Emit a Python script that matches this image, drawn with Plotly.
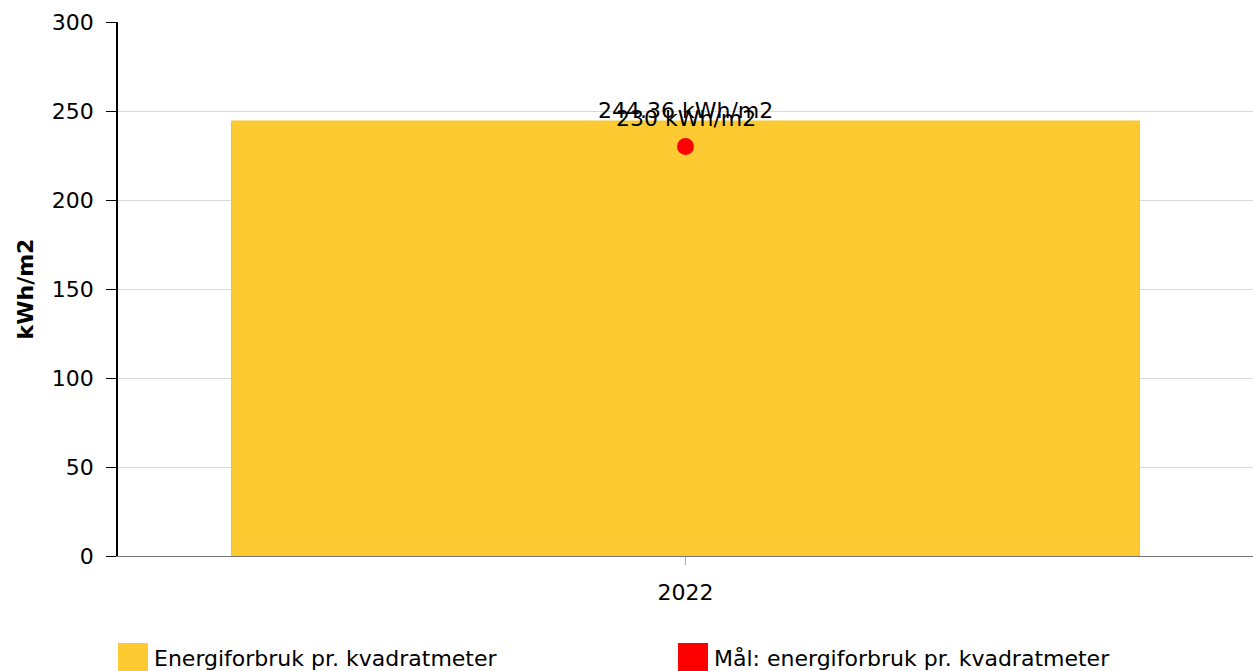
import plotly.graph_objects as go

years = ["2022"]
consumption = [244.36]
target = [230]
series_names = ["Energiforbruk pr. kvadratmeter", "Mål: energiforbruk pr. kvadratmeter"]
y_ticks = [0, 50, 100, 150, 200, 250, 300]

BAR_COLOR = "rgb(253,202,50)"
TARGET_COLOR = "rgb(255,0,0)"
FONT = "DejaVu Sans, Verdana, sans-serif"
FS = 22

W, H = 1253, 671
ML, MR, MT, MB = 118, 0, 22, 115
PW = W - ML - MR
PH = H - MT - MB

def px_x(p):
    return (p - ML) / PW

def px_y(p):
    return (H - MB - p) / PH

fig = go.Figure()
fig.add_trace(go.Bar(
    x=years, y=consumption, name=series_names[0],
    marker=dict(color=BAR_COLOR, line=dict(color="rgb(245,195,45)", width=1)),
    width=0.8,
    showlegend=False,
))
fig.add_trace(go.Scatter(
    x=years, y=target, name=series_names[1], mode="markers",
    marker=dict(color=TARGET_COLOR, size=17),
    cliponaxis=False,
    showlegend=False,
))
for i, yv in enumerate(consumption):
    fig.add_annotation(x=i, y=yv, text=f"{yv:g} kWh/m2", showarrow=False,
                       yshift=11, xanchor="center", yanchor="middle",
                       font=dict(family=FONT, size=FS, color="black"))
for i, yv in enumerate(target):
    fig.add_annotation(x=i, y=yv, text=f"{yv:g} kWh/m2", showarrow=False,
                       yshift=28, xanchor="center", yanchor="middle",
                       font=dict(family=FONT, size=FS, color="black"))

# custom legend with large square swatches
legend_items = [(118, series_names[0], BAR_COLOR), (678, series_names[1], TARGET_COLOR)]
for x0, name, col in legend_items:
    fig.add_shape(type="rect", xref="paper", yref="paper",
                  x0=px_x(x0), x1=px_x(x0 + 30), y0=px_y(643), y1=px_y(674),
                  fillcolor=col, line=dict(width=0))
    fig.add_annotation(xref="paper", yref="paper", x=px_x(x0 + 34), y=px_y(658),
                       text=name, showarrow=False, xanchor="left", yanchor="middle",
                       font=dict(family=FONT, size=FS, color="black"))

fig.update_layout(
    width=W, height=H,
    margin=dict(l=ML, r=MR, t=MT, b=MB, pad=0),
    paper_bgcolor="white", plot_bgcolor="white",
    font=dict(family=FONT, size=FS, color="black"),
    bargap=0.2,
    xaxis=dict(
        type="category", range=[-0.5, 0.5], showline=True, linecolor="rgb(120,120,120)", linewidth=1,
        ticks="outside", ticklen=8, tickcolor="rgb(170,170,170)",
        tickfont=dict(family=FONT, size=FS, color="black"), ticklabelstandoff=9,
        showgrid=False, zeroline=False,
    ),
    yaxis=dict(
        range=[0, 300], tickvals=y_ticks, showline=True, linecolor="black", linewidth=1.5,
        ticks="outside", ticklen=10, tickcolor="black",
        tickfont=dict(family=FONT, size=FS, color="black"), ticklabelstandoff=8,
        showgrid=True, gridcolor="rgb(217,217,217)", gridwidth=1, zeroline=False,
        title=dict(text="<b>kWh/m2</b>", font=dict(family=FONT, size=FS, color="black"), standoff=12),
    ),
)

fig.write_html("out.html", config={"displayModeBar": False},
               post_script="document.body.style.margin='0px';document.body.style.overflow='hidden';")
